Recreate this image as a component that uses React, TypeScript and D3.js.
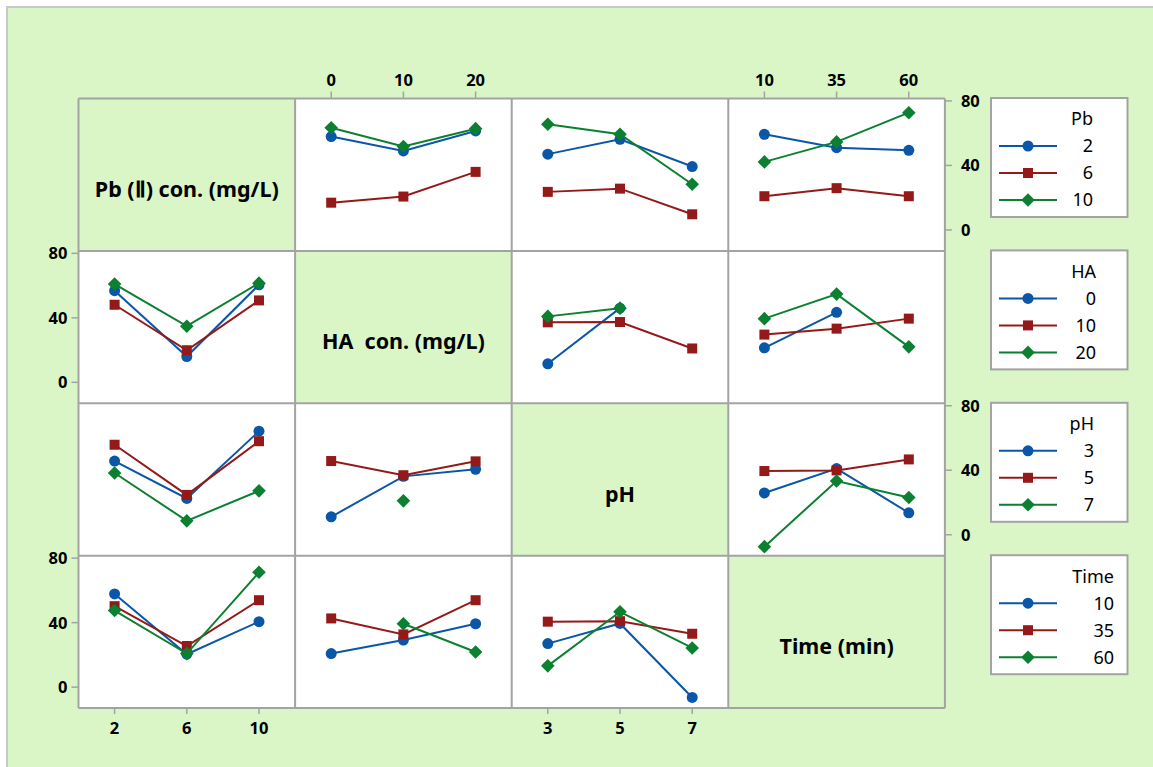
import React from "react";
import * as d3 from "d3";

// ---- Data ----
const factorNames = ["Pb", "HA", "pH", "Time"];
const factorLabels = ["Pb (Ⅱ) con. (mg/L)", "HA  con. (mg/L)", "pH", "Time (min)"];
const pbLevels = [2, 6, 10];
const haLevels = [0, 10, 20];
const phLevels = [3, 5, 7];
const timeLevels = [10, 35, 60];
const yTicks = [0, 40, 80];

// means[lineFactor][xFactor]: rows = levels of line factor, cols = levels of x factor
const pbByHA = [[57.9, 49.0, 61.4], [16.9, 20.7, 36.0], [63.4, 51.7, 62.8]];
const pbByPH = [[47.0, 56.2, 39.3], [23.6, 25.6, 9.7], [65.5, 59.3, 28.3]];
const pbByTime = [[59.3, 51.0, 49.4], [20.9, 25.9, 20.9], [42.2, 54.6, 72.7]];

const haByPb = [[56.8, 16.0, 60.5], [48.1, 19.9, 50.8], [60.9, 34.8, 61.5]];
const haByPH = [[11.5, 46.0, null], [37.2, 37.4, 21.0], [40.9, 46.0, null]];
const haByTime = [[21.4, 43.4, null], [29.6, 33.3, 39.5], [39.5, 54.7, 22.0]];

const phByPb = [[45.7, 22.5, 64.2], [55.8, 24.7, 58.0], [38.3, 8.6, 27.2]];
const phByHA = [[11.1, 36.2, 40.6], [45.7, 36.9, 45.5], [null, 21.0, null]];
const phByTime = [[25.9, 41.0, 13.6], [39.5, 39.9, 46.7], [-7.4, 33.3, 23.1]];

const timeByPb = [[57.8, 20.4, 40.6], [50.2, 25.5, 53.9], [47.5, 20.8, 71.2]];
const timeByHA = [[20.8, 29.2, 39.3], [42.6, 32.7, 53.9], [null, 39.3, 21.8]];
const timeByPH = [[27.0, 39.5, -6.4], [40.6, 40.9, 33.1], [13.2, 46.7, 24.3]];

const levels = [pbLevels, haLevels, phLevels, timeLevels];
const panelData: Record<string, (number | null)[][]> = {
  "0-1": pbByHA, "0-2": pbByPH, "0-3": pbByTime,
  "1-0": haByPb, "1-2": haByPH, "1-3": haByTime,
  "2-0": phByPb, "2-1": phByHA, "2-3": phByTime,
  "3-0": timeByPb, "3-1": timeByHA, "3-2": timeByPH,
};

// ---- Styles ----
const COLORS = ["#0a56a8", "#941a1a", "#0b8030"];
const BG = "#daf6c6";
const GRID = "#a3a3a3";
const FONT = "'Noto Sans', 'Open Sans', sans-serif";

const W = 1153, H = 767;
const gridLeft = 78.5, cellW = 216.6;
const gridTop = 98.5, cellH = 152.4;
const legendX = 991, legendW = 136.5, legendH = 119;
const legendTextX = [1093, 1096, 1094, 1114];

function Marker({ kind, x, y, color }: { kind: number; x: number; y: number; color: string }) {
  if (kind === 0) return <circle cx={x} cy={y} r={5.5} fill={color} />;
  if (kind === 1) return <rect x={x - 5} y={y - 5} width={10} height={10} fill={color} />;
  const s = 6.8;
  return <path d={`M${x},${y - s}L${x + s},${y}L${x},${y + s}L${x - s},${y}Z`} fill={color} />;
}

export default function App() {
  const xScales = levels.map((lv, j) => {
    const pad = (lv[2] - lv[0]) / 4;
    const x0 = gridLeft + j * cellW;
    return d3.scaleLinear().domain([lv[0] - pad, lv[2] + pad]).range([x0, x0 + cellW]);
  });
  const yScales = [0, 1, 2, 3].map((i) => {
    const y0 = gridTop + i * cellH;
    return d3.scaleLinear().domain([-13, 81.5]).range([y0 + cellH, y0]);
  });

  const cells: JSX.Element[] = [];
  for (let i = 0; i < 4; i++) {
    for (let j = 0; j < 4; j++) {
      const x0 = gridLeft + j * cellW;
      const y0 = gridTop + i * cellH;
      cells.push(
        <rect key={`c${i}${j}`} x={x0} y={y0} width={cellW} height={cellH}
          fill={i === j ? BG : "#ffffff"} />
      );
    }
  }

  const marks: JSX.Element[] = [];
  for (let i = 0; i < 4; i++) {
    for (let j = 0; j < 4; j++) {
      if (i === j) continue;
      const data = panelData[`${i}-${j}`];
      const xs = xScales[j];
      const ys = yScales[i];
      data.forEach((series, k) => {
        const pts = series.map((v, m) => ({ x: levels[j][m], v }));
        const line = d3.line<{ x: number; v: number | null }>()
          .defined((d) => d.v !== null)
          .x((d) => xs(d.x))
          .y((d) => ys(d.v as number));
        marks.push(
          <g key={`p${i}${j}${k}`}>
            <path d={line(pts) || ""} fill="none" stroke={COLORS[k]} strokeWidth={2} />
            {pts.filter((d) => d.v !== null).map((d, m) => (
              <Marker key={m} kind={k} x={xs(d.x)} y={ys(d.v as number)} color={COLORS[k]} />
            ))}
          </g>
        );
      });
    }
  }

  const gridLines: JSX.Element[] = [];
  for (let k = 0; k <= 4; k++) {
    gridLines.push(<line key={`v${k}`} x1={gridLeft + k * cellW} x2={gridLeft + k * cellW}
      y1={gridTop} y2={gridTop + 4 * cellH} stroke={GRID} strokeWidth={2} />);
    gridLines.push(<line key={`h${k}`} y1={gridTop + k * cellH} y2={gridTop + k * cellH}
      x1={gridLeft} x2={gridLeft + 4 * cellW} stroke={GRID} strokeWidth={2} />);
  }

  const axes: JSX.Element[] = [];
  const bottomY = gridTop + 4 * cellH;
  // bottom axes: columns 0 and 2
  [0, 2].forEach((j) => {
    levels[j].forEach((v, m) => {
      const x = xScales[j](v);
      axes.push(<line key={`bt${j}${m}`} x1={x} x2={x} y1={bottomY} y2={bottomY + 6} stroke={GRID} strokeWidth={1.5} />);
      axes.push(<text key={`bl${j}${m}`} x={x} y={bottomY + 26} textAnchor="middle"
        fontFamily={FONT} fontWeight="bold" fontSize={16.5}>{v}</text>);
    });
  });
  // top axes: columns 1 and 3
  [1, 3].forEach((j) => {
    levels[j].forEach((v, m) => {
      const x = xScales[j](v);
      axes.push(<line key={`tt${j}${m}`} x1={x} x2={x} y1={gridTop} y2={gridTop - 7} stroke={GRID} strokeWidth={1.5} />);
      axes.push(<text key={`tl${j}${m}`} x={x} y={gridTop - 12.5} textAnchor="middle"
        fontFamily={FONT} fontWeight="bold" fontSize={16.5}>{v}</text>);
    });
  });
  // left axes: rows 1 and 3
  [1, 3].forEach((i) => {
    yTicks.forEach((t) => {
      const y = yScales[i](t);
      axes.push(<line key={`lt${i}${t}`} x1={gridLeft} x2={gridLeft - 7} y1={y} y2={y} stroke={GRID} strokeWidth={1.5} />);
      axes.push(<text key={`ll${i}${t}`} x={gridLeft - 11} y={y} dy="0.36em" textAnchor="end"
        fontFamily={FONT} fontWeight="bold" fontSize={16.5}>{t}</text>);
    });
  });
  // right axes: rows 0 and 2
  const rightX = gridLeft + 4 * cellW;
  [0, 2].forEach((i) => {
    yTicks.forEach((t) => {
      const y = yScales[i](t);
      axes.push(<line key={`rt${i}${t}`} x1={rightX} x2={rightX + 7} y1={y} y2={y} stroke={GRID} strokeWidth={1.5} />);
      axes.push(<text key={`rl${i}${t}`} x={rightX + 16} y={y} dy="0.36em" textAnchor="start"
        fontFamily={FONT} fontWeight="bold" fontSize={16.5}>{t}</text>);
    });
  });

  const labels = factorLabels.map((lab, i) => (
    <text key={`d${i}`} x={gridLeft + i * cellW + cellW / 2} y={gridTop + i * cellH + cellH / 2 + 22}
      textAnchor="middle" fontFamily={FONT} fontWeight="bold" fontSize={21.5}
      style={{ whiteSpace: "pre" }}>{lab}</text>
  ));

  const legends = factorNames.map((name, i) => {
    const top = gridTop + i * cellH - 0.5;
    const tx = legendTextX[i];
    return (
      <g key={`lg${i}`}>
        <rect x={legendX} y={top} width={legendW} height={legendH} fill="#ffffff" stroke={GRID} strokeWidth={2} />
        <text x={tx} y={top + 21} dy="0.35em" textAnchor="end" fontFamily={FONT} fontSize={18}>{name}</text>
        {levels[i].map((v, k) => {
          const y = top + 48 + k * 27;
          return (
            <g key={k}>
              <line x1={999} x2={1057} y1={y} y2={y} stroke={COLORS[k]} strokeWidth={2} />
              <Marker kind={k} x={1028} y={y} color={COLORS[k]} />
              <text x={tx} y={y} dy="0.35em" textAnchor="end" fontFamily={FONT} fontSize={18}>{v}</text>
            </g>
          );
        })}
      </g>
    );
  });

  return (
    <svg width={W} height={H} style={{ position: "absolute", left: 0, top: 0 }}>
      <rect x={0} y={0} width={W} height={H} fill="#ffffff" />
      <rect x={7} y={7} width={W} height={H} fill={BG} stroke="#c8c8c8" strokeWidth={2} />
      {cells}
      {labels}
      {gridLines}
      {marks}
      {axes}
      {legends}
    </svg>
  );
}
